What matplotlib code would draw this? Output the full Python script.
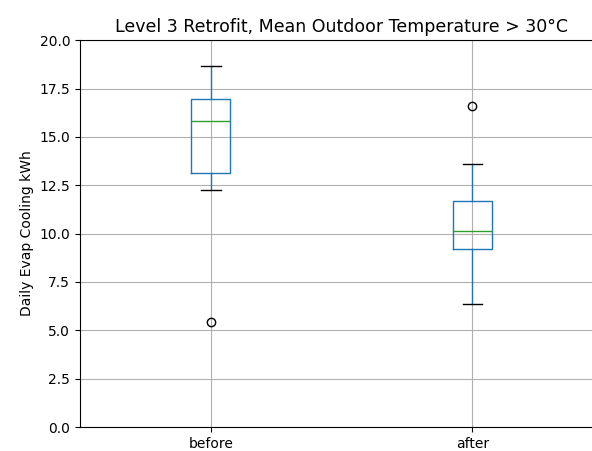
import matplotlib
matplotlib.use("Agg")
from matplotlib import pyplot as plt

# summary stats per period (kWh/day)
labels = ["before", "after"]
whislo = [12.25, 6.35]
q1 = [13.15, 9.2]
med = [15.8, 10.12]
q3 = [16.95, 11.68]
whishi = [18.65, 13.62]
fliers = [[5.45], [16.62]]

stats = []
for i, lab in enumerate(labels):
    stats.append(dict(label=lab, whislo=whislo[i], q1=q1[i], med=med[i],
                      q3=q3[i], whishi=whishi[i], fliers=fliers[i]))

fig = plt.figure(figsize=(5.92, 4.51), dpi=100)
ax = fig.add_axes([0.135, 0.053, 0.884, 0.858])

ax.bxp(stats, widths=0.15,
       boxprops=dict(color="#1f77b4"),
       whiskerprops=dict(color="#1f77b4"),
       medianprops=dict(color="#2ca02c"),
       capprops=dict(color="black"),
       flierprops=dict(marker="o", markerfacecolor="none", markeredgecolor="black"))

ax.set_ylim(0, 20)
ax.set_yticks([0, 2.5, 5, 7.5, 10, 12.5, 15, 17.5, 20])
ax.grid(True)
ax.tick_params(labelsize=10)
ax.set_ylabel("Daily Evap Cooling kWh", fontsize=10)
ax.set_title("Level 3 Retrofit, Mean Outdoor Temperature > 30°C", fontsize=12.5)

fig.savefig("out.png", dpi=100)
